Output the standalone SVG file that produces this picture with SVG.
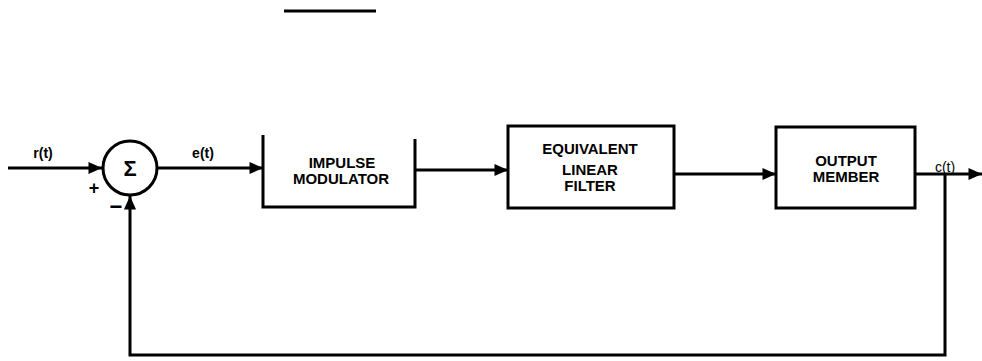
<svg xmlns="http://www.w3.org/2000/svg" width="982" height="361" viewBox="0 0 982 361">
<style>
.ln{stroke:#000;stroke-width:3;fill:none}
.bx{stroke:#000;stroke-width:3;fill:#fff}
.t{font-family:"Liberation Sans",Arial,sans-serif;font-weight:bold;font-size:15px;fill:#000;text-anchor:middle}
.s{font-family:"Liberation Sans",Arial,sans-serif;font-weight:bold;font-size:14px;fill:#000;text-anchor:middle}
</style>
<defs>
<marker id="ar" viewBox="0 0 10 10" refX="10" refY="5" markerWidth="7" markerHeight="4.5" markerUnits="strokeWidth" orient="auto">
<path d="M0,0.5 L10,5 L0,9.5 Z" fill="#000"/>
</marker>
</defs>
<rect width="982" height="361" fill="#fff"/>
<line x1="284" y1="11" x2="376" y2="11" class="ln"/>
<g id="connectors">
<line x1="8" y1="168" x2="102" y2="168" class="ln" marker-end="url(#ar)"/>
<line x1="158" y1="168" x2="263" y2="168" class="ln" marker-end="url(#ar)"/>
<line x1="415" y1="170" x2="508" y2="170" class="ln" marker-end="url(#ar)"/>
<line x1="674" y1="174" x2="776" y2="174" class="ln" marker-end="url(#ar)"/>
<line x1="915" y1="174" x2="982" y2="174" class="ln" marker-end="url(#ar)"/>
<polyline points="945,174 945,355 130,355 130,196" class="ln" marker-end="url(#ar)"/>
</g>
<g id="sum">
<circle cx="130" cy="168" r="27" class="bx"/>
<text x="130" y="176" class="t" style="font-size:22px">Σ</text>
</g>
<g id="labels">
<text x="43" y="158" class="s">r(t)</text>
<text x="203" y="158" class="s">e(t)</text>
<text x="94" y="194" class="t" style="font-size:18px">+</text>
<text x="116" y="214" class="t" style="font-size:22px">−</text>
<text x="945" y="172" class="s" style="font-weight:normal">c(t)</text>
</g>
<g id="impulse-modulator">
<polyline points="263,135 263,207 415,207 415,139" class="ln"/>
<text x="342" y="168" class="t">IMPULSE</text>
<text x="341" y="184" class="t">MODULATOR</text>
</g>
<g id="equivalent-linear-filter">
<rect x="508" y="126" width="166" height="82" class="bx"/>
<text x="590" y="154" class="t">EQUIVALENT</text>
<text x="590" y="175" class="t">LINEAR</text>
<text x="590" y="191" class="t">FILTER</text>
</g>
<g id="output-member">
<rect x="776" y="127" width="139" height="81" class="bx"/>
<text x="846" y="166" class="t">OUTPUT</text>
<text x="846" y="182" class="t">MEMBER</text>
</g>
</svg>
